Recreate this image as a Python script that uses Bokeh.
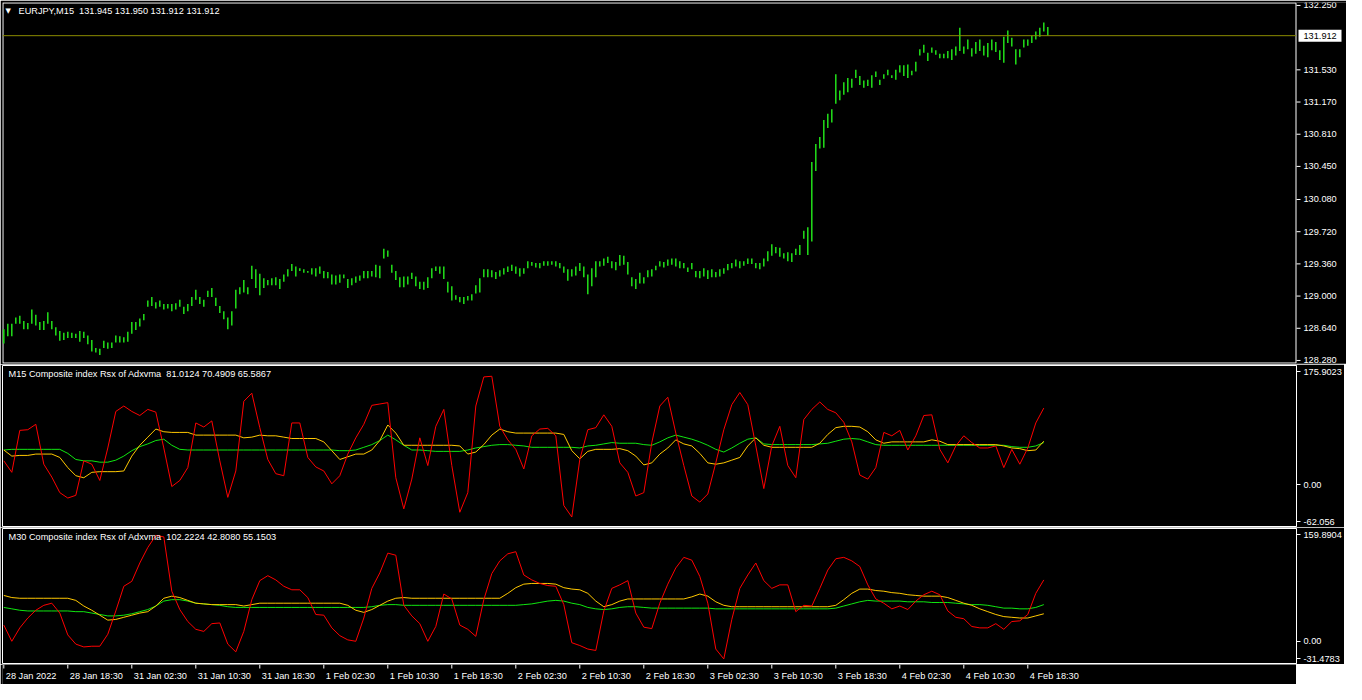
from bokeh.plotting import figure
from bokeh.models import LinearAxis, FixedTicker, Range1d, Label
from bokeh.layouts import column
from bokeh.embed import file_html
from bokeh.resources import INLINE
from bokeh.core.properties import value

# ---------------- data ----------------
time_tick_bars = [0, 32, 64, 96, 128, 160, 192, 224, 256, 288, 320, 352, 384, 416, 448, 480, 512]
time_tick_labels = ["28 Jan 2022", "28 Jan 18:30", "31 Jan 02:30", "31 Jan 10:30", "31 Jan 18:30",
                    "1 Feb 02:30", "1 Feb 10:30", "1 Feb 18:30", "2 Feb 02:30", "2 Feb 10:30",
                    "2 Feb 18:30", "3 Feb 02:30", "3 Feb 10:30", "3 Feb 18:30", "4 Feb 02:30",
                    "4 Feb 10:30", "4 Feb 18:30"]

main_title = "EURJPY,M15\u00a0\u00a0131.945 131.950 131.912 131.912"
last_price = 131.912
price_ticks = [132.25, 131.53, 131.17, 130.81, 130.45, 130.08, 129.72, 129.36, 129.00, 128.64, 128.28]
price_tick_labels = ["132.250", "131.530", "131.170", "130.810", "130.450", "130.080",
                     "129.720", "129.360", "129.000", "128.640", "128.280"]
price_range = (128.246, 132.283)

price_high = [
    128.63, 128.69, 128.69, 128.76, 128.78, 128.72, 128.70, 128.85, 128.79, 128.71,
    128.72, 128.82, 128.72, 128.65, 128.61, 128.59, 128.60, 128.59, 128.58, 128.61,
    128.60, 128.56, 128.51, 128.42, 128.41, 128.50, 128.48, 128.48, 128.56, 128.55,
    128.54, 128.60, 128.71, 128.71, 128.75, 128.80, 128.95, 128.99, 128.93, 128.95,
    128.91, 128.91, 128.91, 128.92, 128.96, 128.88, 128.91, 128.99, 129.07, 128.99,
    128.96, 129.06, 129.09, 128.98, 128.89, 128.83, 128.76, 128.83, 129.07, 129.10,
    129.18, 129.10, 129.34, 129.30, 129.25, 129.20, 129.18, 129.20, 129.21, 129.19,
    129.24, 129.30, 129.36, 129.33, 129.31, 129.30, 129.28, 129.31, 129.31, 129.33,
    129.28, 129.27, 129.24, 129.23, 129.24, 129.24, 129.19, 129.20, 129.22, 129.23,
    129.28, 129.28, 129.28, 129.35, 129.34, 129.53, 129.51, 129.35, 129.28, 129.21,
    129.22, 129.22, 129.26, 129.22, 129.16, 129.16, 129.21, 129.31, 129.33, 129.33,
    129.33, 129.16, 129.11, 129.01, 128.99, 128.99, 129.00, 129.02, 129.12, 129.20,
    129.30, 129.30, 129.29, 129.27, 129.29, 129.31, 129.33, 129.35, 129.33, 129.31,
    129.31, 129.39, 129.38, 129.37, 129.37, 129.39, 129.39, 129.39, 129.39, 129.37,
    129.33, 129.30, 129.30, 129.33, 129.37, 129.33, 129.24, 129.31, 129.39, 129.39,
    129.42, 129.44, 129.39, 129.38, 129.46, 129.45, 129.38, 129.21, 129.19, 129.26,
    129.21, 129.29, 129.30, 129.34, 129.39, 129.38, 129.41, 129.42, 129.42, 129.39,
    129.37, 129.32, 129.37, 129.28, 129.28, 129.31, 129.29, 129.30, 129.27, 129.30,
    129.31, 129.36, 129.37, 129.41, 129.39, 129.39, 129.42, 129.42, 129.37, 129.37,
    129.42, 129.50, 129.58, 129.55, 129.54, 129.48, 129.49, 129.48, 129.53, 129.57,
    129.73, 129.77, 130.50, 130.70, 130.78, 130.97, 131.04, 131.09, 131.48, 131.30,
    131.39, 131.44, 131.43, 131.53, 131.46, 131.41, 131.42, 131.47, 131.51, 131.42,
    131.48, 131.53, 131.47, 131.53, 131.58, 131.58, 131.59, 131.52, 131.62, 131.76,
    131.81, 131.72, 131.78, 131.75, 131.71, 131.71, 131.74, 131.76, 131.79, 132.00,
    131.79, 131.87, 131.77, 131.84, 131.87, 131.80, 131.83, 131.87, 131.84, 131.75,
    131.90, 131.97, 131.89, 131.76, 131.76, 131.87, 131.87, 131.91, 131.96, 132.00,
    132.06, 132.01]

price_low = [
    128.47, 128.55, 128.55, 128.69, 128.69, 128.63, 128.63, 128.69, 128.67, 128.62,
    128.62, 128.69, 128.63, 128.56, 128.50, 128.51, 128.53, 128.53, 128.53, 128.49,
    128.53, 128.46, 128.38, 128.37, 128.34, 128.42, 128.41, 128.42, 128.48, 128.48,
    128.48, 128.49, 128.58, 128.62, 128.66, 128.73, 128.88, 128.89, 128.86, 128.88,
    128.85, 128.86, 128.83, 128.85, 128.88, 128.80, 128.83, 128.89, 128.96, 128.91,
    128.88, 128.99, 128.99, 128.89, 128.81, 128.74, 128.63, 128.67, 128.86, 129.02,
    129.04, 129.02, 129.19, 129.09, 129.01, 129.09, 129.12, 129.12, 129.12, 129.08,
    129.16, 129.22, 129.28, 129.22, 129.28, 129.26, 129.26, 129.24, 129.22, 129.25,
    129.20, 129.20, 129.13, 129.13, 129.15, 129.20, 129.09, 129.12, 129.15, 129.17,
    129.20, 129.20, 129.22, 129.21, 129.20, 129.42, 129.44, 129.26, 129.18, 129.10,
    129.10, 129.13, 129.19, 129.11, 129.08, 129.07, 129.09, 129.20, 129.28, 129.25,
    129.19, 129.04, 128.95, 128.96, 128.93, 128.91, 128.95, 128.95, 129.03, 129.04,
    129.21, 129.21, 129.21, 129.19, 129.22, 129.24, 129.27, 129.28, 129.25, 129.22,
    129.25, 129.31, 129.34, 129.32, 129.31, 129.34, 129.34, 129.35, 129.33, 129.31,
    129.26, 129.17, 129.22, 129.23, 129.28, 129.21, 129.02, 129.11, 129.21, 129.33,
    129.34, 129.37, 129.31, 129.29, 129.34, 129.35, 129.24, 129.11, 129.08, 129.14,
    129.14, 129.21, 129.22, 129.29, 129.33, 129.32, 129.34, 129.35, 129.33, 129.31,
    129.31, 129.27, 129.30, 129.21, 129.20, 129.22, 129.19, 129.21, 129.21, 129.22,
    129.25, 129.29, 129.31, 129.33, 129.31, 129.34, 129.36, 129.36, 129.31, 129.30,
    129.33, 129.39, 129.45, 129.48, 129.44, 129.42, 129.39, 129.38, 129.46, 129.46,
    129.64, 129.46, 129.61, 130.40, 130.65, 130.66, 130.88, 130.94, 131.15, 131.19,
    131.25, 131.28, 131.33, 131.44, 131.36, 131.33, 131.35, 131.33, 131.45, 131.36,
    131.43, 131.47, 131.44, 131.42, 131.50, 131.46, 131.44, 131.47, 131.51, 131.69,
    131.72, 131.63, 131.72, 131.70, 131.66, 131.66, 131.66, 131.64, 131.69, 131.74,
    131.71, 131.76, 131.68, 131.71, 131.74, 131.69, 131.67, 131.75, 131.73, 131.64,
    131.61, 131.83, 131.79, 131.59, 131.67, 131.78, 131.80, 131.83, 131.87, 131.90,
    131.96, 131.91]

m15_title = "M15 Composite index Rsx of Adxvma\u00a0\u00a081.0124 70.4909 65.5867"
m15_range = (-62.056, 175.9023)
m15_tick_labels = ["175.9023", "0.00", "-62.056"]
m15_red = [
    35, 18, 80, 81, 89, 30, 11, -12, -20, -16,
    35, 30, 6, 54, 108, 116, 108, 102, 111, 107,
    54, -3, 6, 25, 91, 85, 94, 35, -19, 20,
    123, 135, 84, 37, 16, 13, 91, 91, 40, 26,
    20, 1, 13, 45, 69, 89, 117, 119, 121, 10,
    -36, 8, 69, 28, 86, 111, 28, -41, -12, 116,
    159, 160, 86, 66, 52, 23, 72, 82, 83, 72,
    -31, -48, 37, 81, 84, 103, 86, 32, 18, -17,
    -12, 62, 116, 129, 76, 28, -17, -26, -14, 32,
    81, 118, 136, 118, 57, -6, 57, 86, 28, 10,
    96, 111, 122, 111, 106, 92, 63, 14, 8, 25,
    77, 72, 80, 51, 72, 102, 103, 52, 32, 57,
    72, 62, 54, 54, 57, 25, 52, 30, 54, 91, 113]
m15_yellow = [
    51, 42, 43, 43, 45, 45, 45, 40, 25, 13,
    10, 18, 19, 19, 19, 20, 42, 58, 70, 82,
    78, 77, 77, 77, 73, 73, 73, 73, 73, 73,
    69, 70, 73, 72, 72, 70, 68, 68, 68, 68,
    63, 50, 37, 41, 45, 45, 51, 65, 88, 76,
    58, 58, 58, 58, 58, 58, 58, 57, 45, 48,
    59, 73, 82, 78, 76, 76, 76, 76, 76, 76,
    74, 50, 38, 49, 52, 52, 52, 53, 50, 42,
    29, 32, 45, 54, 66, 60, 57, 46, 32, 30,
    32, 36, 40, 57, 69, 58, 55, 55, 55, 55,
    55, 55, 61, 74, 84, 86, 86, 85, 78, 66,
    61, 63, 63, 63, 63, 63, 66, 64, 59, 59,
    59, 59, 59, 59, 59, 57, 54, 53, 50, 51, 64]
m15_green = [
    51, 52, 52, 52, 52, 52, 52, 52, 46, 37,
    35, 35, 33, 33, 36, 42, 50, 56, 60, 65,
    67, 58, 52, 51, 51, 51, 51, 51, 51, 51,
    51, 51, 51, 51, 51, 51, 51, 51, 51, 51,
    51, 51, 50, 50, 51, 55, 59, 65, 73, 66,
    58, 51, 51, 50, 49, 49, 49, 49, 51, 54,
    56, 58, 59, 59, 58, 57, 55, 55, 55, 55,
    55, 55, 54, 57, 58, 60, 62, 61, 61, 61,
    59, 58, 63, 69, 73, 70, 67, 63, 58, 52,
    48, 54, 61, 67, 69, 60, 59, 59, 59, 59,
    59, 59, 60, 61, 64, 67, 68, 67, 63, 59,
    58, 58, 58, 58, 58, 58, 58, 58, 58, 58,
    58, 58, 58, 58, 58, 58, 56, 55, 55, 57, 62]

m30_title = "M30 Composite index Rsx of Adxvma\u00a0\u00a0102.2224 42.8080 55.1503"
m30_range = (-31.4783, 159.8904)
m30_tick_labels = ["159.8904", "0.00", "-31.4783"]
m30_red = [
    23, 0, 19, 33, 44, 51, 54, 40, 9, -4,
    -8, -7, -7, 10, 43, 78, 85, 111, 133, 150,
    148, 71, 45, 28, 17, 14, 25, 26, -4, -15,
    14, 59, 86, 93, 87, 78, 73, 73, 62, 38,
    37, 19, 8, 2, 0, 33, 75, 97, 125, 122,
    51, 36, 25, 0, 21, 67, 60, 23, 17, 7,
    59, 96, 114, 124, 127, 94, 87, 82, 79, 78,
    52, -2, -6, -11, -13, 43, 75, 80, 86, 40,
    20, 18, 54, 81, 104, 119, 115, 92, 54, -11,
    -25, 31, 75, 94, 111, 86, 75, 80, 80, 42,
    51, 50, 75, 101, 117, 119, 114, 106, 80, 60,
    54, 46, 50, 45, 57, 66, 71, 66, 43, 34,
    32, 21, 19, 19, 25, 17, 28, 29, 38, 68, 87]
m30_yellow = [
    65, 62, 61, 61, 61, 61, 61, 61, 61, 58,
    50, 44, 37, 30, 31, 34, 37, 40, 42, 50,
    61, 64, 62, 58, 54, 53, 52, 52, 52, 52,
    50, 52, 54, 54, 54, 54, 54, 54, 54, 54,
    54, 54, 54, 51, 44, 41, 45, 51, 57, 61,
    62, 61, 61, 61, 61, 61, 61, 61, 61, 61,
    61, 61, 61, 68, 76, 81, 82, 82, 82, 81,
    76, 74, 73, 68, 57, 49, 52, 57, 60, 60,
    60, 60, 60, 60, 60, 60, 63, 67, 64, 56,
    51, 49, 49, 49, 49, 49, 49, 49, 49, 49,
    49, 49, 49, 49, 51, 59, 68, 74, 74, 72,
    71, 69, 68, 66, 65, 64, 64, 64, 62, 58,
    54, 51, 46, 42, 38, 35, 34, 33, 33, 36, 39]
m30_green = [
    48, 46, 44, 43, 43, 43, 43, 43, 43, 42,
    42, 40, 38, 36, 36, 37, 39, 42, 45, 50,
    57, 59, 59, 57, 54, 53, 52, 51, 49, 48,
    48, 48, 48, 48, 48, 48, 48, 48, 48, 48,
    48, 48, 48, 48, 48, 48, 49, 51, 52, 52,
    51, 51, 51, 51, 51, 51, 51, 51, 51, 51,
    51, 51, 51, 51, 51, 52, 53, 55, 57, 58,
    57, 54, 52, 48, 46, 45, 46, 48, 49, 49,
    48, 47, 47, 47, 47, 47, 47, 47, 47, 46,
    46, 46, 46, 46, 46, 46, 46, 46, 46, 46,
    46, 46, 46, 46, 47, 50, 53, 56, 58, 57,
    57, 57, 57, 56, 56, 56, 55, 55, 55, 54,
    53, 52, 52, 51, 49, 47, 47, 46, 46, 48, 52]

# ---------------- style / layout ----------------
FONT = "Liberation Sans"
FS = "9.2px"
BG = "#000000"
FG = "#ffffff"
BAR_COL = "#22e01a"
RED = "#ff0000"
YEL = "#ffc800"
GRN = "#10e610"
OLIVE = "#8c8c00"
FW = 1294          # data window width (px)
AXW = 50           # price-scale strip width (px)
X0 = -0.65
XPX = 0.5          # bars per pixel
X1 = X0 + FW * XPX
xr = Range1d(X0, X1)


def make_fig(fw, fh, x_range, yr, top, bottom, outline=FG):
    p = figure(frame_width=fw, frame_height=fh, x_range=x_range, y_range=Range1d(*yr),
               output_backend="svg", toolbar_location=None,
               x_axis_location=None, y_axis_location=None,
               background_fill_color=BG, border_fill_color=BG,
               min_border_left=2, min_border_right=0,
               min_border_top=top, min_border_bottom=bottom,
               outline_line_color=outline, outline_line_width=1)
    p.grid.visible = False
    return p


def add_right_axis(p, ticks, labels):
    ax = LinearAxis(ticker=FixedTicker(ticks=ticks),
                    major_label_overrides={t: l for t, l in zip(ticks, labels)},
                    axis_line_color=FG, major_tick_line_color=FG,
                    major_tick_in=0, major_tick_out=4,
                    minor_tick_line_color=None,
                    major_label_text_color=FG, major_label_text_font=FONT,
                    major_label_text_font_size=FS, major_label_standoff=3)
    p.add_layout(ax, "right")


def add_title(p, text, px_x, px_y, fh, yr):
    ypx = (yr[1] - yr[0]) / fh
    p.add_layout(Label(x=X0 + px_x * XPX, y=yr[1] - px_y * ypx, text=text,
                       text_color=FG, text_font=FONT, text_font_size=FS,
                       text_baseline="middle", text_align="left"))


# ---- main price window (frame includes its own price scale strip) ----
H1 = 361
p1 = make_fig(FW + AXW, H1, Range1d(X0, X0 + (FW + AXW) * XPX), price_range, 2, 1, outline=None)
ypx1 = (price_range[1] - price_range[0]) / H1
xl, xe = X0 + 0.5 * XPX, X1 - 0.5 * XPX
yt, yb = price_range[1] - 0.5 * ypx1, price_range[0] + 0.5 * ypx1
p1.line([xl, xe, xe, xl, xl], [yt, yt, yb, yb, yt], line_color=FG, line_width=1)

n = min(len(price_high), len(price_low))
bar_x = [2 * j for j in range(n)]
p1.segment(x0=bar_x, y0=price_low[:n], x1=bar_x, y1=price_high[:n],
           line_color=BAR_COL, line_width=1.5)
p1.segment(x0=[X0], y0=[last_price], x1=[xe], y1=[last_price], line_color=OLIVE, line_width=1)

# price scale
nt = len(price_ticks)
p1.segment(x0=[X1] * nt, y0=price_ticks, x1=[X1 + 4 * XPX] * nt, y1=price_ticks,
           line_color=FG, line_width=1)
p1.text(x=[X1 + 7 * XPX] * nt, y=price_ticks, text=price_tick_labels,
        text_align="left", text_baseline="middle", text_color=FG,
        text_font=value(FONT), text_font_size=FS)
p1.quad(left=[X1 + 2 * XPX], right=[X1 + 45 * XPX],
        top=[last_price + 6 * ypx1], bottom=[last_price - 6 * ypx1],
        fill_color="#ffffff", line_color=None)
p1.text(x=[X1 + 7 * XPX], y=[last_price], text=[f"{last_price:.3f}"],
        text_align="left", text_baseline="middle", text_color="#000000",
        text_font=value(FONT), text_font_size=FS)

p1.add_layout(Label(x=X0 + 3 * XPX, y=price_range[1] - 8 * ypx1, text="\u25bc",
                    text_color=FG, text_font="DejaVu Sans", text_font_size="7px",
                    text_baseline="middle", text_align="left"))
add_title(p1, main_title, 16, 8, H1, price_range)


def indicator_fig(fh, yr, red, yel, grn, title, tick_labels, top, bottom):
    p = make_fig(FW, fh, xr, yr, top, bottom)
    for series, col in ((grn, GRN), (yel, YEL), (red, RED)):
        xs = [4 * k for k in range(len(series))]
        p.line(xs, series, line_color=col, line_width=1)
    ypx = (yr[1] - yr[0]) / fh
    ticks = [yr[1] - 6 * ypx, 0.0, yr[0] + 5 * ypx]
    add_right_axis(p, ticks, tick_labels)
    add_title(p, title, 6, 8, fh, yr)
    return p


H2 = 161
p2 = indicator_fig(H2, m15_range, m15_red, m15_yellow, m15_green, m15_title, m15_tick_labels, 1, 1)
H3 = 135
p3 = indicator_fig(H3, m30_range, m30_red, m30_yellow, m30_green, m30_title, m30_tick_labels, 1, 1)

# ---- time axis strip ----
p4 = make_fig(FW, 20, xr, (0, 20), 0, 0, outline=None)
p4.segment(x0=time_tick_bars, y0=[20] * len(time_tick_bars), x1=time_tick_bars,
           y1=[16] * len(time_tick_bars), line_color=FG, line_width=1)
p4.text(x=time_tick_bars, y=[9] * len(time_tick_bars), text=time_tick_labels, x_offset=2,
        text_align="left", text_baseline="middle", text_color=FG,
        text_font=value(FONT), text_font_size=FS)

layout = column(p1, p2, p3, p4)
open("out.html", "w").write(file_html(layout, INLINE))
